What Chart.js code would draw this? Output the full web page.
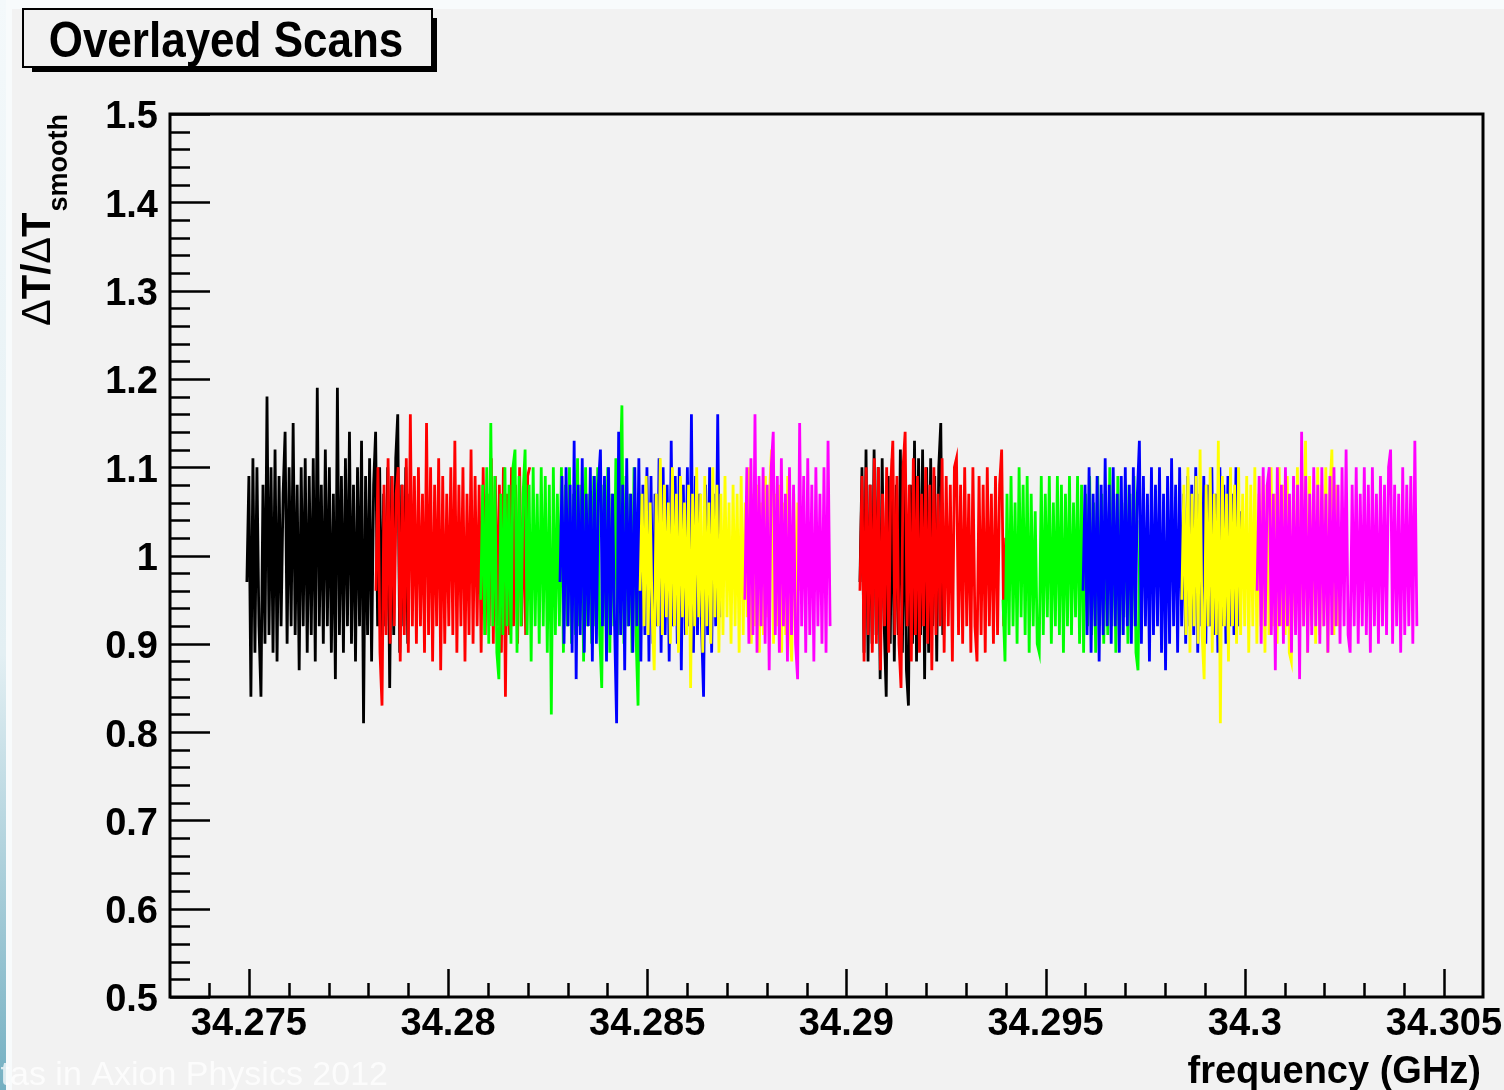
<!DOCTYPE html>
<html>
<head>
<meta charset="utf-8">
<title>Overlayed Scans</title>
<script src="https://cdn.jsdelivr.net/npm/chart.js@4.4.0/dist/chart.umd.min.js"></script>
<style>
  html, body { margin: 0; padding: 0; background: #f8fbfc; }
  canvas { display: block; }
</style>
</head>
<body>
<canvas id="scanChart" width="1504" height="1090"></canvas>
<script>
// ΔT/ΔTsmooth, one array per scan (left group, then right group)
const black1 = [0.97,1.09,0.84,1.11,0.89,1.10,0.92,0.84,1.08,0.90,
  1.18,0.91,1.10,0.89,1.12,0.88,1.09,0.92,1.07,1.14,
  0.90,1.10,0.92,1.15,0.91,1.08,0.87,1.10,0.92,1.11,
  0.89,1.09,0.91,1.11,0.88,1.19,0.92,1.08,0.90,1.12,
  0.92,1.10,0.89,1.07,0.86,1.19,0.91,1.09,0.89,1.11,
  0.92,1.14,0.90,1.08,0.88,1.10,0.92,1.13,0.81,1.09,
  0.91,1.11,0.88,1.08,1.14,0.92,1.10,0.90,1.07,0.92,
  1.10,0.85,1.09,0.91,1.11,1.16,0.89,1.08,0.92,1.10,
  0.90,1.07];
const red1 = [0.96,1.10,0.89,0.83,1.08,0.91,1.11,0.90,1.09,0.92,
  1.07,1.10,0.88,1.08,0.91,1.11,0.89,1.16,0.92,1.09,
  0.90,1.10,0.92,1.07,0.89,1.15,0.91,1.10,0.88,1.08,
  0.92,1.11,0.87,1.09,0.90,1.07,0.92,1.10,0.91,1.13,
  0.89,1.08,0.92,1.10,0.88,1.07,0.91,1.12,0.90,1.09,
  0.92,1.08,0.89,1.10,0.91,1.07,0.92,1.11,0.90,1.09,
  0.92,1.08,0.89,1.10,0.84,1.07,0.91,1.10,0.92,1.08,
  0.90,1.10,0.92,1.07,0.91,1.09,1.10];
const green1 = [0.95,1.08,0.91,1.10,0.90,1.15,0.92,1.09,0.89,0.86,
  1.07,0.91,1.10,0.92,1.08,0.90,1.10,1.12,0.89,1.09,
  0.92,1.07,1.12,0.91,1.08,0.88,1.10,0.92,1.07,0.90,
  1.10,0.92,1.09,0.89,1.08,0.82,1.10,0.91,1.07,0.92,
  1.10,0.89,1.08,0.92,1.10,0.90,1.07,0.91,1.11,0.92,
  1.08,0.88,1.10,0.92,1.07,0.90,1.09,0.92,1.10,0.91,
  0.85,1.08,0.92,1.10,0.89,1.07,0.92,1.11,0.91,1.08,
  1.17,0.90,1.09,0.92,1.07,0.89,1.10,0.91,0.83,1.07];
const blue1 = [0.97,1.09,0.90,1.10,0.92,1.08,0.89,1.13,0.86,1.08,
  0.91,1.11,0.89,1.07,0.92,1.10,0.88,1.09,0.90,1.08,
  1.12,0.92,1.09,0.88,1.10,0.91,1.07,0.92,0.81,1.14,
  0.91,1.08,0.87,1.11,0.92,1.07,0.89,1.10,0.92,1.11,
  0.88,1.08,0.91,1.10,0.88,1.09,0.90,1.07,0.92,1.11,
  0.89,1.10,0.91,1.08,0.88,1.13,0.92,1.09,0.90,1.10,
  0.87,1.08,0.91,1.10,0.92,1.16,0.89,1.09,0.91,1.07,
  0.92,0.84,1.08,0.91,1.10,0.89,1.07,0.92,1.16,0.93];
const yellow1 = [0.96,1.07,0.92,1.09,0.91,1.06,0.93,0.87,1.07,0.92,
  1.11,0.91,1.08,0.93,1.06,0.90,1.10,0.92,1.07,0.89,
  1.09,0.93,1.06,0.91,1.08,0.85,1.07,0.92,1.10,0.93,
  1.07,0.89,1.09,0.92,1.06,0.90,1.10,0.93,1.08,0.89,
  1.07,0.91,1.09,0.93,1.06,0.90,1.08,0.92,1.07,0.89,
  1.09,0.91,1.06,0.93,1.10,0.90,1.07,0.92,1.08,0.89,
  1.06,0.91,1.09,0.93,1.07,1.12,0.90,1.07,0.92,1.08,
  0.89,1.06,0.91,1.09,0.92,0.88,1.07,0.92,1.06,0.96];
const magenta1 = [0.95,1.10,0.90,1.11,0.91,1.16,0.89,1.09,0.92,1.10,
  0.90,1.08,0.87,1.10,1.14,0.91,1.09,0.89,1.11,0.92,
  1.07,0.88,1.10,0.91,1.08,0.90,0.86,1.15,0.92,1.09,
  0.89,1.11,0.91,1.08,0.88,1.10,0.92,1.07,0.90,1.10,
  0.89,1.13,0.92];
const black2 = [0.97,1.10,0.89,1.12,0.88,1.08,0.90,1.12,0.91,1.10,
  0.86,1.11,0.92,0.84,1.09,0.90,1.11,0.88,1.08,0.91,
  1.12,0.89,1.10,0.87,0.83,1.08,0.90,1.13,0.88,1.11,
  0.91,1.12,0.86,1.10,0.89,1.11,0.92,1.09,0.88,1.10,
  1.15,0.91,0.97];
const red2 = [0.96,1.09,0.88,1.10,0.91,1.08,0.89,1.11,0.90,1.10,
  0.87,1.07,0.92,1.10,0.89,1.08,1.13,0.91,1.09,0.90,
  0.85,1.10,1.14,0.92,1.08,0.88,1.11,0.91,1.09,0.89,
  1.07,0.92,1.10,0.90,1.08,0.87,1.10,0.91,1.07,0.92,
  1.11,0.89,1.09,0.92,1.08,0.88,1.10,1.11,0.91,1.08,
  0.90,1.10,0.92,1.07,0.89,1.10,0.92,0.88,1.09,0.91,
  1.08,0.89,1.10,0.92,1.07,0.90,1.09,0.91,1.08,1.12,
  0.92,1.02];
const green2 = [0.95,0.88,1.07,0.91,1.09,0.92,1.06,0.90,1.10,0.93,
  1.08,0.91,1.09,0.89,1.07,0.92,1.05,0.90,0.89,1.09,
  0.91,1.07,0.93,1.09,0.90,1.06,0.92,1.09,0.91,1.08,
  0.89,1.07,0.92,1.09,0.91,1.06,0.93,1.09,0.90,1.08,
  0.89,1.07,0.92,1.09,0.91,1.06,0.89,1.09,0.92,1.07,
  0.90,1.05,0.91,1.10,0.92,1.07,0.89,1.09,0.91,1.06,
  0.93,1.08,0.90,1.07,0.92,1.09,0.89,0.87,1.04];
const blue2 = [0.96,1.08,0.91,1.10,0.89,1.07,0.92,1.09,0.88,1.08,
  0.91,1.11,0.92,1.08,0.90,1.10,0.92,1.07,0.89,1.09,
  0.91,1.10,0.92,1.08,0.90,1.10,0.92,1.07,1.13,0.90,
  1.09,0.92,1.07,0.88,1.10,0.91,1.08,0.92,1.10,0.89,
  1.07,0.87,1.09,0.90,1.11,0.92,1.08,0.89,1.10,0.92,
  1.07,0.90,1.09,0.92,1.08,0.91,1.10,0.89,1.07,0.92,
  1.09,0.90,1.08,0.92,1.10,0.91,1.07,0.89,1.10,0.92,
  1.08,0.90,1.09,0.92,1.07,0.91,1.10,0.92,1.05];
const yellow2 = [0.95,1.08,0.91,1.10,0.89,1.07,0.92,1.09,0.90,1.12,
  0.91,0.86,1.08,0.92,1.10,0.89,1.07,0.91,1.13,0.81,
  1.09,0.92,1.07,0.88,1.10,0.92,1.08,0.90,1.10,0.91,
  1.07,0.92,1.09,0.89,1.08,0.92,1.10,0.90,1.07,0.92,
  1.09,0.89,1.08,0.91,1.10,0.92,1.07,0.90,1.10,0.92,
  1.08,0.91,1.09,0.89,0.88,1.07,0.92,1.10,0.91,1.08,
  0.92,1.13,0.89,1.09,0.92,1.07,0.90,1.10,0.91,1.08,
  0.92,1.10,0.89,1.07,1.12,0.91,1.08,0.92,0.98];
const magenta2 = [0.96,1.09,0.90,1.10,0.92,1.08,1.10,0.91,1.07,0.87,
  1.10,0.92,1.08,0.90,1.10,0.92,1.07,0.89,1.09,0.91,
  1.08,0.86,1.14,0.92,1.09,0.89,1.07,0.91,1.10,0.92,
  1.08,0.90,1.10,0.92,1.07,0.89,1.09,0.91,1.10,0.92,
  1.08,0.90,1.10,0.92,1.12,0.91,0.89,1.08,0.92,1.10,
  0.90,1.07,0.92,1.10,0.91,1.08,0.89,1.10,0.92,1.07,
  0.90,1.09,0.92,1.08,0.91,1.10,1.12,0.90,1.08,0.92,
  1.07,0.89,1.10,0.91,1.08,0.92,1.09,0.90,1.13,0.92];

// frequency span of each scan (GHz)
const scanStart = [34.27495, 34.27819, 34.28082, 34.28281, 34.28482, 34.28745,
                   34.29034, 34.29034, 34.29393, 34.29594, 34.29842, 34.30031];
const scanStop  = [34.27904, 34.28205, 34.28482, 34.28682, 34.28883, 34.28959,
                   34.29247, 34.29400, 34.29737, 34.29988, 34.30239, 34.30432];
const scanValues = [black1, red1, green1, blue1, yellow1, magenta1,
                    black2, red2, green2, blue2, yellow2, magenta2];
const scanColors = ['#000000', '#ff0000', '#00ff00', '#0000ff', '#ffff00', '#ff00ff',
                    '#000000', '#ff0000', '#00ff00', '#0000ff', '#ffff00', '#ff00ff'];

const xTicks = [34.275, 34.28, 34.285, 34.29, 34.295, 34.3, 34.305];
const yTicks = [0.5, 0.6, 0.7, 0.8, 0.9, 1, 1.1, 1.2, 1.3, 1.4, 1.5];

const FONT = "'Liberation Sans', Arial, Helvetica, sans-serif";

function scanPoints(k) {
  const vals = scanValues[k];
  const step = (scanStop[k] - scanStart[k]) / (vals.length - 1);
  return vals.map((v, i) => ({ x: scanStart[k] + i * step, y: v }));
}

const datasets = scanValues.map((vals, k) => ({
  label: 'scan ' + (k + 1),
  data: scanPoints(k),
  borderColor: scanColors[k],
  borderWidth: 2.8,
  borderJoinStyle: 'miter',
  pointRadius: 0,
  tension: 0,
  fill: false,
  order: scanValues.length - k   // later scans on top
}));

// background panel, title pave, frame, ticks and axis titles (ROOT look)
const rootStyle = {
  id: 'rootStyle',
  beforeDraw(chart) {
    const ctx = chart.ctx;
    const W = chart.width, H = chart.height;
    ctx.save();
    ctx.fillStyle = '#f8fbfc';
    ctx.fillRect(0, 0, W, H);
    const g = ctx.createLinearGradient(0, 0, 0, H);
    g.addColorStop(0, '#f4f9fb');
    g.addColorStop(0.6, '#e3eff3');
    g.addColorStop(1, '#74b0c2');
    ctx.fillStyle = g;
    ctx.fillRect(0, 0, 6, H);
    ctx.fillStyle = '#f2f2f2';
    ctx.fillRect(12, 9, W - 12, H - 9);

    // title box with shadow
    ctx.fillStyle = '#000';
    ctx.fillRect(32, 18, 405, 54);
    ctx.fillStyle = '#f2f2f2';
    ctx.fillRect(22, 8, 411, 60);
    ctx.lineWidth = 2;
    ctx.strokeStyle = '#000';
    ctx.strokeRect(23, 9, 409, 58);
    ctx.fillStyle = '#000';
    ctx.font = 'bold 44px ' + FONT;
    ctx.textAlign = 'center';
    ctx.textBaseline = 'alphabetic';
    ctx.translate(226, 57);
    ctx.scale(1, 1.12);
    ctx.fillText('Overlayed Scans', 0, 0);
    ctx.restore();
  },
  afterDatasetsDraw(chart) {
    const ctx = chart.ctx;
    const ca = chart.chartArea;
    const xs = chart.scales.x, ys = chart.scales.y;
    ctx.save();
    ctx.strokeStyle = '#000';
    ctx.lineWidth = 3;
    ctx.strokeRect(ca.left, ca.top, ca.right - ca.left, ca.bottom - ca.top);

    ctx.lineWidth = 2.5;
    ctx.beginPath();
    // y ticks: major 0.1, minor 0.02
    for (let i = 0; i <= 50; i++) {
      const v = 0.5 + i * 0.02;
      const py = Math.round(ys.getPixelForValue(v)) + 0.5;
      const len = (i % 5 === 0) ? 40 : 20;
      ctx.moveTo(ca.left, py);
      ctx.lineTo(ca.left + len, py);
    }
    // x ticks: major 0.005, minor 0.001
    for (let i = -1; i <= 30; i++) {
      const v = 34.275 + i * 0.001;
      const px = Math.round(xs.getPixelForValue(v)) + 0.5;
      if (px <= ca.left + 2 || px >= ca.right - 2) continue;
      const len = (i % 5 === 0) ? 28 : 14;
      ctx.moveTo(px, ca.bottom);
      ctx.lineTo(px, ca.bottom - len);
    }
    ctx.stroke();
    ctx.restore();
  },
  afterDraw(chart) {
    const ctx = chart.ctx;
    ctx.save();
    ctx.fillStyle = '#000';
    ctx.textBaseline = 'alphabetic';

    // y title: ΔT/ΔT with subscript "smooth"
    ctx.save();
    ctx.translate(50, 326);
    ctx.rotate(-Math.PI / 2);
    ctx.textAlign = 'left';
    const parts = [['Δ', 'normal'], ['T/', 'bold'], ['Δ', 'normal'], ['T', 'bold']];
    let cx = 0;
    parts.forEach(p => {
      ctx.font = p[1] + ' 40px ' + FONT;
      ctx.fillText(p[0], cx, 0);
      cx += ctx.measureText(p[0]).width;
    });
    ctx.font = 'bold 27px ' + FONT;
    ctx.fillText('smooth', cx + 1, 17);
    ctx.restore();

    // x title
    ctx.font = 'bold 38px ' + FONT;
    ctx.textAlign = 'right';
    ctx.fillText('frequency (GHz)', 1481, 1083);

    // faint footer from the slide
    ctx.font = '34px ' + FONT;
    ctx.fillStyle = 'rgba(255,255,255,0.75)';
    ctx.fillText('tas in Axion Physics 2012', 388, 1085);
    ctx.restore();
  }
};

new Chart(document.getElementById('scanChart').getContext('2d'), {
  type: 'line',
  data: { datasets: datasets },
  options: {
    responsive: false,
    animation: false,
    parsing: false,
    normalized: true,
    layout: { padding: { left: 0, top: 114, right: 21, bottom: 0 } },
    plugins: {
      legend: { display: false },
      tooltip: { enabled: false }
    },
    scales: {
      x: {
        type: 'linear',
        min: 34.27302,
        max: 34.30598,
        grid: { display: false, drawTicks: false },
        border: { display: false },
        afterBuildTicks: s => { s.ticks = xTicks.map(v => ({ value: v })); },
        afterFit: s => { s.height = 93; s.paddingLeft = 0; s.paddingRight = 0; },
        ticks: {
          autoSkip: false,
          maxRotation: 0,
          minRotation: 0,
          padding: 5,
          color: '#000',
          font: { family: FONT, weight: 'bold', size: 38, lineHeight: 1.2 },
          callback: v => String(+v.toFixed(3))
        }
      },
      y: {
        type: 'linear',
        min: 0.5,
        max: 1.5,
        grid: { display: false, drawTicks: false },
        border: { display: false },
        afterBuildTicks: s => { s.ticks = yTicks.map(v => ({ value: v })); },
        afterFit: s => { s.width = 170; s.paddingTop = 0; s.paddingBottom = 0; },
        ticks: {
          padding: 12,
          labelOffset: 4,
          color: '#000',
          font: { family: FONT, weight: 'bold', size: 38 },
          callback: v => String(+v.toFixed(2))
        }
      }
    }
  },
  plugins: [rootStyle]
});
</script>
</body>
</html>
